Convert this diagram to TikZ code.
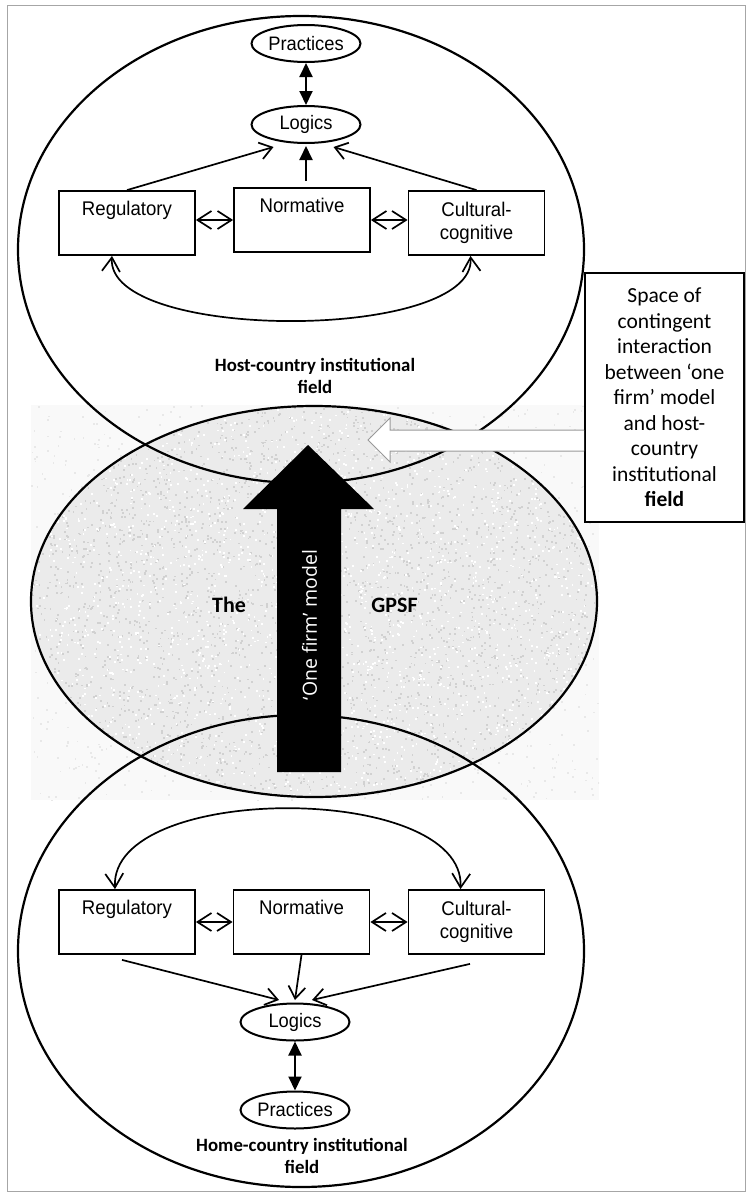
\documentclass[tikz,border=0pt]{standalone}
\usepackage{fontspec}
\setmainfont{Liberation Sans}
\newfontfamily\boxfont[FakeStretch=0.94]{Liberation Sans}
\newfontfamily\carl{Carlito}
\newfontfamily\osans{Open Sans}
\usetikzlibrary{shapes.geometric,arrows.meta,calc}
\begin{document}
\begin{tikzpicture}[x=1pt,y=-1pt,
 bigell/.style={line width=2.2pt},
 box/.style={draw,line width=1.8pt,fill=white,minimum width=136pt,minimum height=64pt,inner sep=0pt,align=center,font=\boxfont\fontsize{19.8}{23}\selectfont},
 oval/.style={draw,ellipse,line width=2pt,fill=white,minimum width=109pt,minimum height=37pt,inner sep=0pt,font=\boxfont\fontsize{19.5}{23}\selectfont},
 openarr/.style={line width=1.7pt,-{Straight Barb[length=12pt,width=17pt]}},
 dblopen/.style={line width=1.7pt,{Straight Barb[length=14pt,width=18pt]}-{Straight Barb[length=14pt,width=18pt]}},
 fillarr/.style={line width=1.9pt,-{Triangle[length=14pt,width=13pt]}},
 dblfill/.style={line width=1.9pt,{Triangle[length=14pt,width=13pt]}-{Triangle[length=14pt,width=13pt]}},
 fieldlbl/.style={font=\carl\bfseries\fontsize{18.8}{22}\selectfont,align=center},
]
\useasboundingbox (0,0) rectangle (748,1194);
% frame
\draw[gray!70,line width=1pt] (7,5) rectangle (745.5,1191);
% textured middle region
\pgfmathsetseed{17}
\begin{scope}
\clip (31,405) rectangle (599,800);
\fill[gray!5] (31,405) rectangle (599,800);
\foreach \i in {1,...,1200}{\fill[gray!18] ({31+568*rnd},{405+395*rnd}) rectangle ++(1.8,1.8);}
\end{scope}
\begin{scope}
\clip (314,601.5) ellipse [x radius=283pt, y radius=195.5pt];
\fill[gray!16] (31,405) rectangle (599,800);
\foreach \i in {1,...,3500}{\fill[gray!36] ({31+568*rnd},{405+395*rnd}) rectangle ++(1.8,1.8);}
\foreach \i in {1,...,2200}{\fill[white] ({31+568*rnd},{405+395*rnd}) rectangle ++(1.8,1.8);}
\end{scope}
% big ellipses
\draw[bigell] (301,249.5) ellipse [x radius=283pt, y radius=233.5pt];
\draw[bigell] (314,601.5) ellipse [x radius=283pt, y radius=195.5pt];
\draw[bigell] (301,951) ellipse [x radius=283pt, y radius=236pt];
% black 'one firm' arrow
\fill[black] (277,772) -- (277,509) -- (243,509) -- (308,445) -- (374,509) -- (341,509) -- (341,772) -- cycle;
\node[rotate=90,text=white,font=\osans\fontsize{19.5}{22}\selectfont] (onefirm) at (309.5,625) {‘One firm’ model};
\node[font=\carl\bfseries\fontsize{22}{26}\selectfont] (the) at (229,605) {The};
\node[font=\carl\bfseries\fontsize{22}{26}\selectfont] (gpsf) at (394.5,605) {GPSF};
% space box
\node[draw,line width=1.8pt,fill=white,minimum width=159pt,minimum height=249pt,inner sep=0pt,align=center,font=\carl\fontsize{21.5}{25.5}\selectfont] (space) at (664.5,397.5)
 {Space of\\contingent\\interaction\\between ‘one\\firm’ model\\and host-\\country\\institutional\\{\bfseries field}};
% white arrow
\draw[gray!80,fill=white,line width=1pt] (space.west |- 0,451) -- (390,451) -- (390,462) -- (368,440) -- (390,418) -- (390,430) -- (space.west |- 0,430);
% ---- top field
\node[oval] (prac1) at (306,43.5) {Practices};
\node[oval] (log1) at (306,124.5) {Logics};
\node[box] (reg1) at (127,223) {Regulatory\\\strut};
\node[box] (norm1) at (302,220) {Normative\\\strut};
\node[box] (cult1) at (476.5,223) {Cultural-\\cognitive};
\draw[dblfill] (prac1) -- (log1);
\draw[dblopen] (reg1.east |- norm1.west) -- (norm1.west);
\draw[dblopen] (norm1.east) -- (cult1.west |- norm1.east);
\draw[openarr] (reg1.north) -- ([shift={(-32.5,22.5)}]log1.center);
\draw[fillarr] ([yshift=6pt]log1.south |- norm1.north) -- ([yshift=-2pt]log1.south);
\draw[openarr] (cult1.north) -- ([shift={(27.5,22.5)}]log1.center);
\draw[dblopen] ([xshift=-15pt]reg1.south) .. controls (106,342) and (476,342) .. ([xshift=-6pt]cult1.south);
\node[fieldlbl] (host) at (315,376) {Host-country institutional\\field};
% ---- bottom field
\node[box] (reg2) at (127,922) {Regulatory\\\strut};
\node[box] (norm2) at (301.5,922) {Normative\\\strut};
\node[box] (cult2) at (476.5,922) {Cultural-\\cognitive};
\node[oval] (log2) at (295,1022) {Logics};
\node[oval] (prac2) at (295,1110) {Practices};
\draw[dblopen] ([xshift=-12pt]reg2.north) .. controls (110,782) and (465,782) .. ([xshift=-16pt]cult2.north);
\draw[dblopen] (reg2.east) -- (norm2.west);
\draw[dblopen] (norm2.east) -- (cult2.west);
\draw[openarr] ([shift={(-5,5)}]reg2.south) -- ([shift={(-16,-22)}]log2.center);
\draw[openarr] (norm2.south) -- ([shift={(0,-22)}]log2.center);
\draw[openarr] ([shift={(-6.5,9)}]cult2.south) -- ([shift={(17,-22)}]log2.center);
\draw[dblfill] (log2) -- (prac2);
\node[fieldlbl] (home) at (302,1155.5) {Home-country institutional\\field};
\end{tikzpicture}
\end{document}
